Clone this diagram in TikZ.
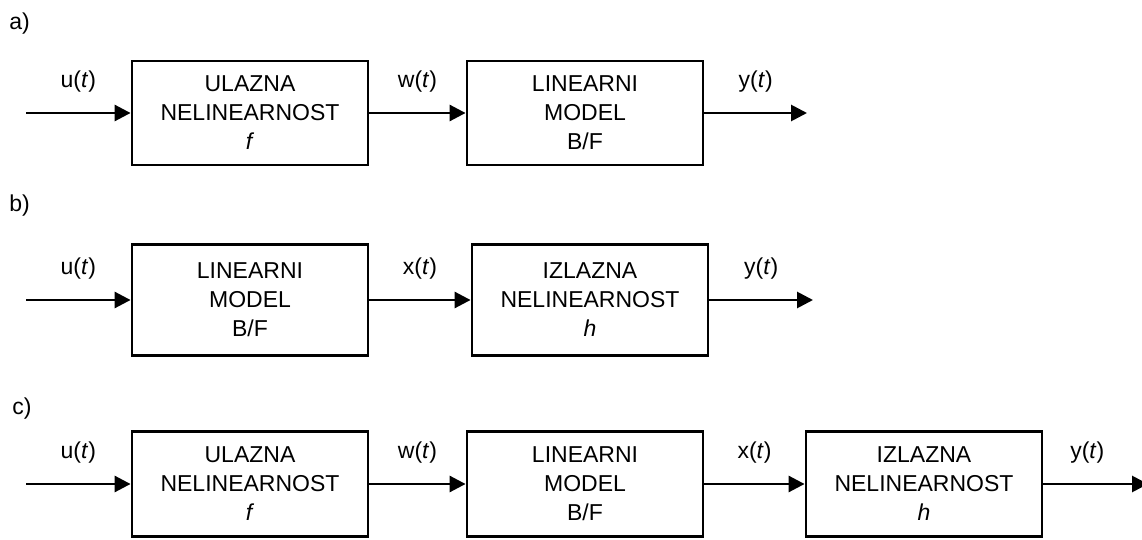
\documentclass[tikz,border=0pt]{standalone}
\usepackage{fontspec}
\setmainfont{Liberation Sans}
\usetikzlibrary{arrows.meta, positioning}

\begin{document}
\begin{tikzpicture}[x=0.5pt, y=-0.5pt, font=\fontsize{11.5}{14.5}\selectfont,
    blok/.style={draw, line width=1.4pt, align=center, minimum width=118pt, inner sep=0pt},
    veza/.style={line width=1.4pt, -{Triangle[length=8pt, width=8pt]}},
    oznaka/.style={above=8.5pt, inner sep=1pt},
    slovo/.style={anchor=west, inner sep=0pt}]
\useasboundingbox (0,0) rectangle (1142,540);

% a)
\node[slovo] (aSlovo) at (9,24) {a)};
\coordinate (aUlaz) at (26,113);
\node[blok, minimum height=52pt] (aNelin) at (250,113) {ULAZNA\\NELINEARNOST\\\textit{f}};
\node[blok, minimum height=52pt] (aLin) at (585,113) {LINEARNI\\MODEL\\B/F};
\coordinate (aIzlaz) at (807,113);
\draw[veza] (aUlaz) -- (aNelin) node[midway, oznaka] {u(\textit{t})};
\draw[veza] (aNelin) -- (aLin) node[midway, oznaka] {w(\textit{t})};
\draw[veza] (aLin) -- (aIzlaz) node[midway, oznaka] {y(\textit{t})};

% b)
\node[slovo] (bSlovo) at (9,206) {b)};
\coordinate (bUlaz) at (26,300);
\node[blok, minimum height=55.5pt] (bLin) at (250,300) {LINEARNI\\MODEL\\B/F};
\node[blok, minimum height=55.5pt] (bNelin) at (590,300) {IZLAZNA\\NELINEARNOST\\\textit{h}};
\coordinate (bIzlaz) at (813,300);
\draw[veza] (bUlaz) -- (bLin) node[midway, oznaka] {u(\textit{t})};
\draw[veza] (bLin) -- (bNelin) node[midway, oznaka] {x(\textit{t})};
\draw[veza] (bNelin) -- (bIzlaz) node[midway, oznaka] {y(\textit{t})};

% c)
\node[slovo] (cSlovo) at (12,409) {c)};
\coordinate (cUlaz) at (26,484);
\node[blok, minimum height=52.5pt] (cNelinU) at (250,484) {ULAZNA\\NELINEARNOST\\\textit{f}};
\node[blok, minimum height=52.5pt] (cLin) at (585,484) {LINEARNI\\MODEL\\B/F};
\node[blok, minimum height=52.5pt] (cNelinI) at (924,484) {IZLAZNA\\NELINEARNOST\\\textit{h}};
\coordinate (cIzlaz) at (1148,484);
\draw[veza] (cUlaz) -- (cNelinU) node[midway, oznaka] {u(\textit{t})};
\draw[veza] (cNelinU) -- (cLin) node[midway, oznaka] {w(\textit{t})};
\draw[veza] (cLin) -- (cNelinI) node[midway, oznaka] {x(\textit{t})};
\draw[veza] (cNelinI) -- (cIzlaz) node[pos=0.42, oznaka] {y(\textit{t})};

\end{tikzpicture}
\end{document}
